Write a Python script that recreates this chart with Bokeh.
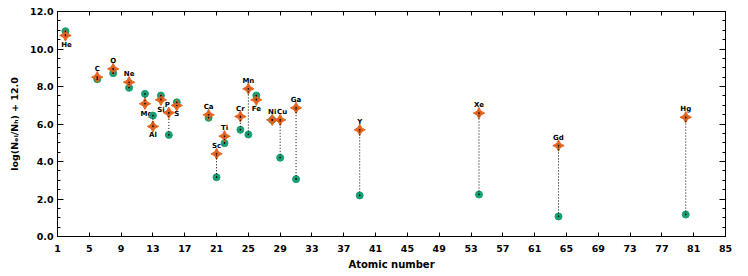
import numpy as np
from bokeh.plotting import figure
from bokeh.models import (ColumnDataSource, LinearAxis, FixedTicker, Range1d,
                          PrintfTickFormatter, CustomLabelingPolicy)
from bokeh.core.properties import value
from bokeh.embed import file_html
from bokeh.resources import INLINE

# ---- data ----
elements = ["He", "C", "O", "Ne", "Mg", "Al", "Si", "P", "S", "Ca", "Sc", "Ti",
            "Cr", "Mn", "Fe", "Ni", "Cu", "Ga", "Y", "Xe", "Gd", "Hg"]
atomic_number = [2, 6, 8, 10, 12, 13, 14, 15, 16, 20, 21, 22,
                 24, 25, 26, 28, 29, 31, 39, 54, 64, 80]
solar_abund = [10.95, 8.39, 8.71, 7.93, 7.61, 6.45, 7.52, 5.42, 7.16, 6.33, 3.16, 4.98,
               5.69, 5.44, 7.52, 6.22, 4.20, 3.06, 2.19, 2.24, 1.07, 1.17]
star_abund = [10.72, 8.50, 8.94, 8.23, 7.08, 5.87, 7.29, 6.60, 6.99, 6.49, 4.41, 5.35,
              6.40, 7.88, 7.29, 6.22, 6.22, 6.86, 5.69, 6.58, 4.85, 6.36]
x_ticks = list(range(1, 86, 4))
y_ticks = [0, 2, 4, 6, 8, 10, 12]
x_title = "Atomic number"
y_title = "log(N\u2091\u2097/N\u2095) + 12.0"

# ---- styles ----
GREEN = "#17a074"
ORANGE = "#e2601a"
FONT = "DejaVu Sans"
below = {"He": 9.5, "Mg": 10, "Al": 8.5, "Si": 10, "S": 9, "Fe": 9}
x_shift = {"Mg": 1.5, "P": -1.5, "Cu": 2, "He": 1}

yoff = [below.get(e, -8) for e in elements]
xoff = [x_shift.get(e, 0) for e in elements]

src = ColumnDataSource(dict(z=atomic_number, sol=solar_abund, st=star_abund,
                            name=elements, yoff=yoff, xoff=xoff))

p = figure(width=748, height=276, output_backend="svg", toolbar_location=None,
           x_range=Range1d(1, 85), y_range=Range1d(0, 12),
           min_border_left=57, min_border_right=23, min_border_top=11, min_border_bottom=40,
           background_fill_color="white", border_fill_color="white")
p.xgrid.visible = False
p.ygrid.visible = False
p.outline_line_color = "black"

no_labels = CustomLabelingPolicy(code="""
for (const i of Array.from(indices)) { indices.unset(i) }
return indices
""")

def style_axis(ax, ticker, labels=True, tick_in=6):
    ax.ticker = ticker
    ax.major_tick_in = tick_in
    ax.major_tick_out = 0
    ax.minor_tick_in = 3
    ax.minor_tick_out = 0
    ax.axis_line_color = "black"
    ax.major_tick_line_color = "black"
    ax.minor_tick_line_color = "black"
    if labels:
        ax.major_label_text_font = FONT
        ax.major_label_text_font_style = "bold"
        ax.major_label_text_font_size = "9.5px"
        ax.major_label_text_color = "black"
        ax.axis_label_text_font = FONT
        ax.axis_label_text_font_style = "bold"
        ax.axis_label_text_color = "black"
    else:
        ax.major_label_text_font_size = "0px"
        ax.major_label_standoff = 0
        ax.major_label_policy = no_labels

xt = FixedTicker(ticks=x_ticks, minor_ticks=[])
yt = FixedTicker(ticks=y_ticks, minor_ticks=list(np.arange(0, 12.01, 0.5)))

xa = p.xaxis[0]
style_axis(xa, xt, tick_in=4)
xa.major_label_standoff = 8
xa.axis_label = x_title
xa.axis_label_text_font_size = "10px"
xa.axis_label_standoff = 4

ya = p.yaxis[0]
style_axis(ya, yt)
ya.formatter = PrintfTickFormatter(format="%.1f")
ya.major_label_standoff = 4
ya.axis_label = y_title
ya.axis_label_text_font_size = "9.5px"
ya.axis_label_standoff = 7

top = LinearAxis()
style_axis(top, xt, labels=False, tick_in=4)
p.add_layout(top, "above")
right = LinearAxis()
style_axis(right, yt, labels=False)
p.add_layout(right, "right")

# element labels
p.text(x="z", y="st", text="name", source=src, x_offset="xoff", y_offset="yoff",
       text_font=value(FONT), text_font_style="bold", text_font_size="7px",
       text_align="center", text_baseline="middle", text_color="black")

# markers
p.scatter(x="z", y="sol", source=src, marker="circle", size=7,
          fill_color=GREEN, line_color=GREEN)
p.scatter(x="z", y="st", source=src, marker="square_pin", angle=np.pi / 4, size=8,
          fill_color=ORANGE, line_color=ORANGE)
p.segment(x0="z", y0="sol", x1="z", y1="st", source=src, line_color="black",
          line_width=1, line_dash="1 2")
p.scatter(x="z", y="sol", source=src, marker="circle", size=1.6,
          fill_color="black", line_color=None)
p.scatter(x="z", y="st", source=src, marker="circle", size=1.6,
          fill_color="black", line_color=None)

open("out.html", "w").write(file_html(p, INLINE))
